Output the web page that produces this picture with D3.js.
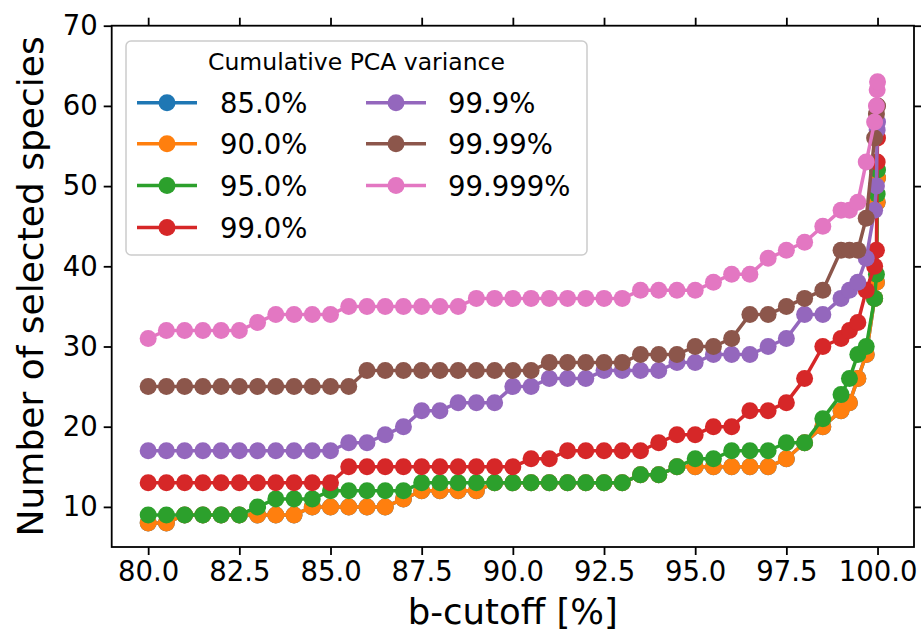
<!DOCTYPE html>
<html><head><meta charset="utf-8">
<script src="https://cdn.jsdelivr.net/npm/d3@7"></script>
<style>html,body{margin:0;padding:0;background:#fff;} svg{display:block;font-family:"DejaVu Sans",sans-serif;}</style>
</head><body>
<svg id="chart" width="921" height="632"></svg>
<script>
const cutoffs = [80,80.5,81,81.5,82,82.5,83,83.5,84,84.5,85,85.5,86,86.5,87,87.5,88,88.5,89,89.5,90,90.5,91,91.5,92,92.5,93,93.5,94,94.5,95,95.5,96,96.5,97,97.5,98,98.5,99,99.23,99.46,99.69,99.92,99.97,99.99,100];
const v85 = [8,8,9,9,9,9,9,9,9,10,10,10,10,10,11,12,12,12,12,13,13,13,13,13,13,13,13,14,14,15,15,15,15,15,15,16,18,20,22,23,26,29,36,38,48,51];
const v90 = [8,8,9,9,9,9,9,9,9,10,10,10,10,10,11,12,12,12,12,13,13,13,13,13,13,13,13,14,14,15,15,15,15,15,15,16,18,20,22,23,26,29,36,38,48,51];
const v95 = [9,9,9,9,9,9,10,11,11,11,12,12,12,12,12,13,13,13,13,13,13,13,13,13,13,13,13,14,14,15,16,16,17,17,17,18,18,21,24,26,29,30,36,39,49,52];
const v99 = [13,13,13,13,13,13,13,13,13,13,13,15,15,15,15,15,15,15,15,15,15,16,16,17,17,17,17,17,18,19,19,20,20,22,22,23,26,30,31,32,33,37,40,42,53,56];
const v999 = [17,17,17,17,17,17,17,17,17,17,17,18,18,19,20,22,22,23,23,23,25,25,26,26,26,27,27,27,27,28,28,29,29,29,30,31,34,34,36,37,38,41,47,50,57,58];
const v9999 = [25,25,25,25,25,25,25,25,25,25,25,25,27,27,27,27,27,27,27,27,27,27,28,28,28,28,28,29,29,29,30,30,31,34,34,35,36,37,42,42,42,46,56,59,60,60];
const v99999 = [31,32,32,32,32,32,33,34,34,34,34,35,35,35,35,35,35,35,36,36,36,36,36,36,36,36,36,37,37,37,37,38,39,39,41,42,43,45,47,47,48,53,58,60,62,63];
const seriesNames = ["85.0%","90.0%","95.0%","99.0%","99.9%","99.99%","99.999%"];
const seriesValues = [v85,v90,v95,v99,v999,v9999,v99999];
const colors = ["#1f77b4","#ff7f0e","#2ca02c","#d62728","#9467bd","#8c564b","#e377c2"];
const xTicks = [80,82.5,85,87.5,90,92.5,95,97.5,100];
const yTicks = [10,20,30,40,50,60,70];
const legendTitle = "Cumulative PCA variance";
const xLabel = "b-cutoff [%]";
const yLabel = "Number of selected species";

const svg = d3.select("#chart");
svg.append("rect").attr("width",921).attr("height",632).attr("fill","#fff");
const L = 111.7, R = 914, T = 25.7, B = 547;
const x = d3.scaleLinear().domain([79,101]).range([L,R]);
const y = d3.scaleLinear().domain([5,70]).range([B,T]);

svg.append("defs").append("clipPath").attr("id","clip")
  .append("rect").attr("x",L).attr("y",T).attr("width",R-L).attr("height",B-T);

const plot = svg.append("g").attr("clip-path","url(#clip)");
const line = d3.line().x((d,i)=>x(cutoffs[i])).y(d=>y(d));
seriesValues.forEach((vals,k)=>{
  const g = plot.append("g");
  g.append("path").datum(vals).attr("d",line).attr("fill","none")
    .attr("stroke",colors[k]).attr("stroke-width",3.5).attr("stroke-linejoin","round");
  g.selectAll("circle").data(vals).join("circle")
    .attr("cx",(d,i)=>x(cutoffs[i])).attr("cy",d=>y(d)).attr("r",8.5).attr("fill",colors[k]);
});

const tickFmt = d3.format(".1f");
function styleAxis(g){
  g.selectAll("path.domain").remove();
  g.selectAll(".tick line").attr("stroke","#000").attr("stroke-width",1.8);
  g.selectAll(".tick text").attr("fill","#000").style("font-size","27.5px").style("font-family","DejaVu Sans");
}
svg.append("g").attr("transform",`translate(0,${B})`)
  .call(d3.axisBottom(x).tickValues(xTicks).tickFormat(tickFmt).tickSize(8).tickPadding(6)).call(styleAxis);
svg.append("g").attr("transform",`translate(0,${T})`)
  .call(d3.axisTop(x).tickValues(xTicks).tickFormat("").tickSize(8)).call(styleAxis);
svg.append("g").attr("transform",`translate(${L},0)`)
  .call(d3.axisLeft(y).tickValues(yTicks).tickFormat(d3.format("d")).tickSize(8).tickPadding(6)).call(styleAxis);
svg.append("g").attr("transform",`translate(${R},0)`)
  .call(d3.axisRight(y).tickValues(yTicks).tickFormat("").tickSize(8)).call(styleAxis);
svg.append("rect").attr("x",L).attr("y",T).attr("width",R-L).attr("height",B-T)
  .attr("fill","none").attr("stroke","#000").attr("stroke-width",1.8);

svg.append("text").attr("x",(L+R)/2).attr("y",624).attr("text-anchor","middle")
  .style("font-size","35.5px").text(xLabel);
svg.append("text").attr("transform",`translate(43,${(T+B)/2}) rotate(-90)`).attr("text-anchor","middle")
  .style("font-size","36px").text(yLabel);

const lg = svg.append("g");
lg.append("rect").attr("x",126).attr("y",41).attr("width",461).attr("height",214).attr("rx",5)
  .attr("fill","#fff").attr("fill-opacity",0.8).attr("stroke","#cccccc").attr("stroke-width",1.5);
lg.append("text").attr("x",356.5).attr("y",70).attr("text-anchor","middle")
  .style("font-size","23.5px").text(legendTitle);
const colX = [[137,197,167,220],[366,426,396,448]];
const rowY = [102.7,143.8,185.5,227.5];
seriesNames.forEach((name,k)=>{
  const c = k<4?0:1, r = k<4?k:k-4;
  const [x0,x1,xm,xt] = colX[c];
  const yy = rowY[r];
  lg.append("line").attr("x1",x0).attr("x2",x1).attr("y1",yy).attr("y2",yy)
    .attr("stroke",colors[k]).attr("stroke-width",3.5);
  lg.append("circle").attr("cx",xm).attr("cy",yy).attr("r",8.5).attr("fill",colors[k]);
  lg.append("text").attr("x",xt).attr("y",yy+10).style("font-size","27.5px").text(name);
});
</script>
</body></html>
